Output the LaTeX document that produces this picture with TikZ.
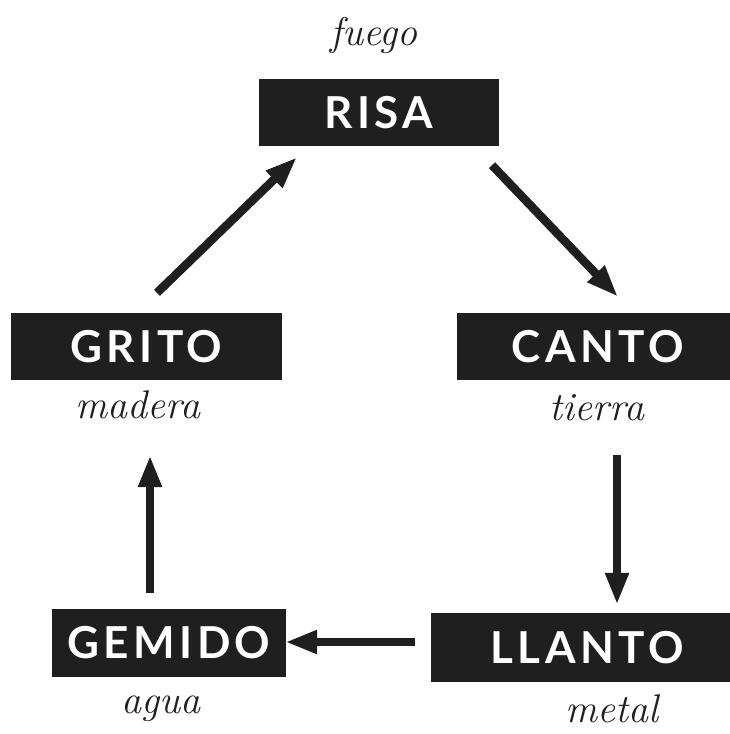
\documentclass[tikz,border=0pt]{standalone}
\usepackage{fontspec}
\newfontfamily\boxfont[LetterSpace=10]{Lato}
\usetikzlibrary{arrows.meta}
\definecolor{ink}{HTML}{1F1F1F}

\begin{document}
\begin{tikzpicture}[x=1pt,y=-1pt,
  box/.style={fill=ink,text=white,inner sep=0pt,font=\boxfont\bfseries\fontsize{44}{44}\selectfont},
  elem/.style={anchor=base,text=ink,font=\itshape\fontsize{40}{40}\selectfont},
  flow/.style={draw=ink,line width=8.5pt,-{Triangle[length=32pt,width=22pt]}}]
\useasboundingbox (0,0) rectangle (730,734);
\node[box,minimum width=240pt,minimum height=67pt] (risa) at (379,112.5) {RISA};
\node[box,minimum width=271pt,minimum height=67pt] (grito) at (146.5,346.5) {GRITO};
\node[box,minimum width=282pt,minimum height=67pt] (canto) at (598,346.5) {CANTO};
\node[box,minimum width=234pt,minimum height=68pt] (gemido) at (169,643) {GEMIDO};
\node[box,minimum width=312pt,minimum height=69pt] (llanto) at (587,647.5) {LLANTO};
\node[elem] (fuego) at (374,45) {fuego};
\node[elem] (madera) at (138,418) {madera};
\node[elem] (tierra) at (597,420) {tierra};
\node[elem] (agua) at (161,713) {agua};
\node[elem] (metal) at (612,722) {metal};
\draw[flow] ([shift={(10.5,-20)}]grito.north) -- ([shift={(-82,11)}]risa.south);
\draw[flow] ([shift={(113,19)}]risa.south) -- ([shift={(20,-16)}]canto.north);
\draw[flow] ([shift={(19,75)}]canto.south) -- ([shift={(30,-8)}]llanto.north);
\draw[flow] ([shift={(-16,-5.5)}]llanto.west) -- ([shift={(-1,-1)}]gemido.east);
\draw[flow] ([shift={(-19,-16)}]gemido.north) -- ([shift={(3.5,75)}]grito.south);
\end{tikzpicture}
\end{document}
